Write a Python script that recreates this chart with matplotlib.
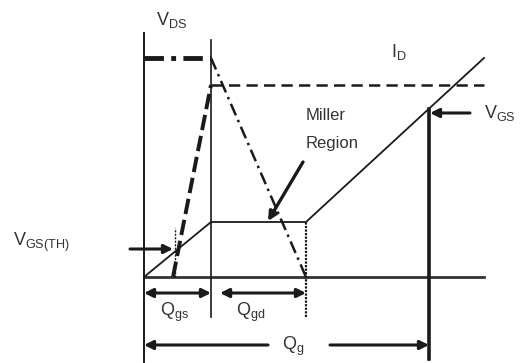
import matplotlib
matplotlib.use("Agg")
import matplotlib.pyplot as plt

plt.rcParams['font.family'] = ['Liberation Sans', 'DejaVu Sans']
plt.rcParams['mathtext.fontset'] = 'custom'
plt.rcParams['mathtext.rm'] = 'Liberation Sans'
plt.rcParams['mathtext.it'] = 'Liberation Sans'

# ---- diagram data (gate charge, arbitrary units) ----
vgs_q = [0, 67, 162, 340]
vgs_v = [0, 55, 55, 219]
vds_top_q = [0, 67]
vds_top_v = [219, 219]
vds_fall_q = [67, 162]
vds_fall_v = [219, 0]
id_rise_q = [29, 67]
id_rise_v = [0, 192]
id_flat_q = [67, 340]
id_flat_v = [192, 192]

Q_TH = 31
Q_GS = 67
Q_GD = 162
Q_G = 285
Q_END = 340
V_TH = 25
V_PLAT = 55
V_AT_QG = 55 + (219 - 55) * (Q_G - Q_GD) / (Q_END - Q_GD)

LC = '#1a1a1a'
TC = '#333333'

fig = plt.figure(figsize=(5.24, 3.63), dpi=100)
ax = fig.add_axes([0, 0, 1, 1])
ax.set_xlim(-144, 380)
ax.set_ylim(-86, 277)
ax.axis('off')

# baseline
ax.plot([0, Q_END], [0, 0], color='#333333', lw=2.0)
# vertical markers
ax.plot([0, 0], [-85, 244], color=LC, lw=1.4)
ax.plot([Q_GS, Q_GS], [-40, 237], color=LC, lw=1.2)
ax.plot([Q_GD, Q_GD], [-40, V_PLAT], color=LC, lw=1.6, ls=(0, (1, 0.6)))
ax.plot([Q_G, Q_G], [-82, V_AT_QG], color=LC, lw=2.6)
ax.plot([Q_TH, Q_TH], [0, 49], color=LC, lw=1.0, ls=(0, (1.5, 1)))

# V_GS
ax.plot(vgs_q, vgs_v, color=LC, lw=1.3)
# V_DS
ax.plot(vds_top_q, vds_top_v, color=LC, lw=3.5, ls=(0, (4, 1.5, 1, 1.5)))
ax.plot(vds_fall_q, vds_fall_v, color=LC, lw=1.8, ls=(0, (5, 2, 1, 2)))
# I_D
ax.plot(id_rise_q, id_rise_v, color=LC, lw=2.8, ls=(0, (4, 1.5)))
ax.plot(id_flat_q, id_flat_v, color=LC, lw=1.8, ls=(0, (4.5, 2.5)))

arrow = dict(arrowstyle='-|>', color=LC, lw=2.2, mutation_scale=13, shrinkA=0, shrinkB=0)
darrow = dict(arrowstyle='<|-|>', color=LC, lw=2.2, mutation_scale=13, shrinkA=0, shrinkB=0)

# Qgs, Qgd
ax.annotate('', xy=(Q_GS, -16), xytext=(0, -16), arrowprops=darrow)
ax.annotate('', xy=(Q_GD, -16), xytext=(76, -16), arrowprops=darrow)
# Qg
ax.annotate('', xy=(0, -68), xytext=(124, -68), arrowprops=arrow)
ax.annotate('', xy=(Q_G, -68), xytext=(186, -68), arrowprops=arrow)
# V_GS arrow
ax.annotate('', xy=(Q_G + 1, 164), xytext=(326, 164), arrowprops=arrow)
# V_GS(TH) arrow
ax.annotate('', xy=(Q_TH - 2, 28), xytext=(-14, 28), arrowprops=arrow)
# Miller arrow
ax.annotate('', xy=(124, 56), xytext=(159, 115),
            arrowprops=dict(arrowstyle='-|>', color=LC, lw=2.4, mutation_scale=13,
                            shrinkA=0, shrinkB=0))

fs = 13
def lab(x, y, s, **kw):
    ax.text(x, y, s, color=TC, fontsize=fs, ha='left', va='baseline', **kw)

lab(12, 252, r'$\mathregular{V_{DS}}$')
lab(247, 220, r'$\mathregular{I_{D}}$')
lab(340, 159, r'$\mathregular{V_{GS}}$')
lab(-131, 31, r'$\mathregular{V_{GS(TH)}}$')
lab(16, -39, r'$\mathregular{Q_{gs}}$')
lab(92, -39, r'$\mathregular{Q_{gd}}$')
lab(138, -73, r'$\mathregular{Q_{g}}$')
ax.text(162, 157, 'Miller', color=TC, fontsize=12, ha='left', va='baseline')
ax.text(162, 129, 'Region', color=TC, fontsize=12, ha='left', va='baseline')

fig.savefig('out.png', dpi=100)
